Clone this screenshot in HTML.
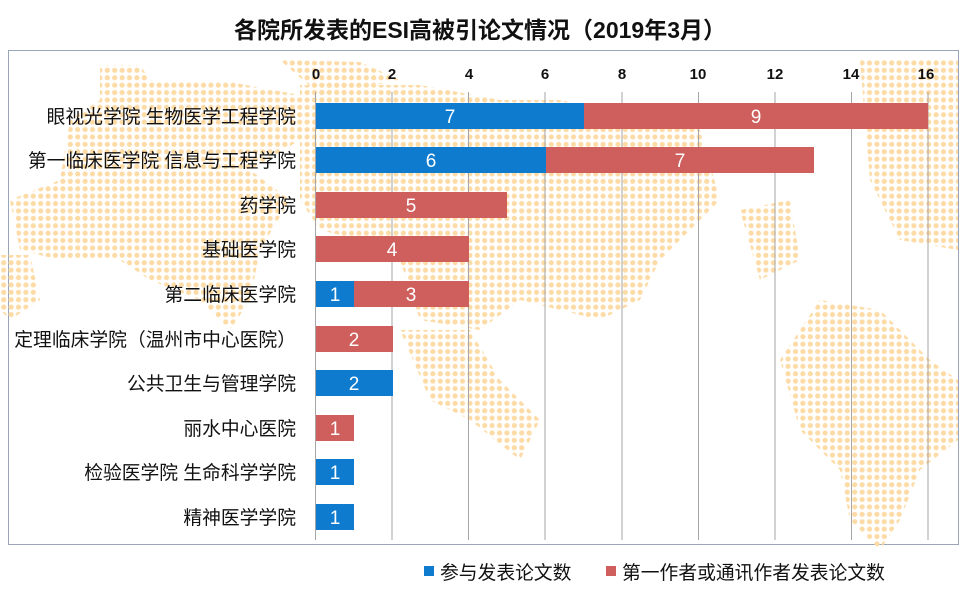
<!DOCTYPE html>
<html><head><meta charset="utf-8"><style>
body{margin:0;background:#fff;}
svg{display:block;font-family:"Liberation Sans","Noto Sans CJK SC",sans-serif;}
</style></head><body>
<svg width="960" height="599" viewBox="0 0 960 599">
<defs>
<pattern id="dots" width="7.4" height="7.4" patternUnits="userSpaceOnUse">
<circle cx="3.7" cy="3.7" r="2.6" fill="#fddba6"/>
</pattern>
</defs>
<text x="480" y="38" text-anchor="middle" font-size="23" font-weight="bold" fill="#111">各院所发表的ESI高被引论文情况（2019年3月）</text>
<rect x="8.5" y="50.5" width="950" height="494" fill="none" stroke="#9aa6b8"/>
<g fill="url(#dots)">
<polygon points="100,65 140,65 150,80 230,82 300,95 300,140 250,170 290,200 260,250 250,300 230,330 200,300 150,280 120,260 60,260 20,250 10,200 60,180 70,120 100,100"/>
<polygon points="300,85 420,85 500,100 560,100 700,130 720,200 660,260 640,300 600,320 520,300 480,330 420,320 400,260 360,240 320,230 300,200"/>
<polygon points="280,60 360,62 400,80 320,95"/>
<polygon points="400,330 470,330 500,380 540,420 520,460 470,420 430,400"/>
<polygon points="820,300 880,310 930,360 958,380 958,440 920,470 900,520 880,550 850,520 840,470 800,430 780,360"/>
<polygon points="860,60 958,60 958,250 900,240 870,180"/>
<polygon points="740,210 790,200 800,260 760,280"/>
<polygon points="0,255 30,255 40,300 10,320 0,310"/>
</g>
<g stroke="#a6a6a6" stroke-width="1">
<line x1="315.5" y1="92" x2="315.5" y2="540"/>
<line x1="392" y1="92" x2="392" y2="540"/>
<line x1="468.5" y1="92" x2="468.5" y2="540"/>
<line x1="545" y1="92" x2="545" y2="540"/>
<line x1="622" y1="92" x2="622" y2="540"/>
<line x1="698.5" y1="92" x2="698.5" y2="540"/>
<line x1="775" y1="92" x2="775" y2="540"/>
<line x1="851.5" y1="92" x2="851.5" y2="540"/>
<line x1="928" y1="92" x2="928" y2="540"/>
</g>
<g font-size="15" font-weight="bold" fill="#111" text-anchor="middle">
<text x="316" y="79">0</text><text x="392" y="79">2</text><text x="469" y="79">4</text><text x="545" y="79">6</text><text x="622" y="79">8</text><text x="698" y="79">10</text><text x="775" y="79">12</text><text x="851" y="79">14</text><text x="926" y="79">16</text>
</g>
<g>
<rect x="316" y="103" width="268" height="26" fill="#0f7bce"/><rect x="584" y="103" width="344" height="26" fill="#cf5f5d"/>
<rect x="316" y="147" width="230" height="26" fill="#0f7bce"/><rect x="546" y="147" width="268" height="26" fill="#cf5f5d"/>
<rect x="316" y="192" width="191" height="26" fill="#cf5f5d"/>
<rect x="316" y="236" width="153" height="26" fill="#cf5f5d"/>
<rect x="316" y="281" width="38" height="26" fill="#0f7bce"/><rect x="354" y="281" width="115" height="26" fill="#cf5f5d"/>
<rect x="316" y="326" width="77" height="26" fill="#cf5f5d"/>
<rect x="316" y="370" width="77" height="26" fill="#0f7bce"/>
<rect x="316" y="415" width="38" height="26" fill="#cf5f5d"/>
<rect x="316" y="459" width="38" height="26" fill="#0f7bce"/>
<rect x="316" y="504" width="38" height="26" fill="#0f7bce"/>
</g>
<g font-size="19" fill="#fff" text-anchor="middle">
<text x="450" y="123">7</text><text x="756" y="123">9</text>
<text x="431" y="167">6</text><text x="680" y="167">7</text>
<text x="411" y="212">5</text>
<text x="392" y="256">4</text>
<text x="335" y="301">1</text><text x="411" y="301">3</text>
<text x="354" y="346">2</text>
<text x="354" y="390">2</text>
<text x="335" y="435">1</text>
<text x="335" y="479">1</text>
<text x="335" y="524">1</text>
</g>
<g font-size="18.8" fill="#111" text-anchor="end">
<text x="296" y="123">眼视光学院 生物医学工程学院</text>
<text x="296" y="167">第一临床医学院 信息与工程学院</text>
<text x="296" y="212">药学院</text>
<text x="296" y="256">基础医学院</text>
<text x="296" y="301">第二临床医学院</text>
<text x="296" y="346">定理临床学院（温州市中心医院）</text>
<text x="296" y="390">公共卫生与管理学院</text>
<text x="296" y="435">丽水中心医院</text>
<text x="296" y="479">检验医学院 生命科学学院</text>
<text x="296" y="524">精神医学学院</text>
</g>
<rect x="424" y="566" width="10" height="10" fill="#0f7bce"/>
<text x="440" y="579" font-size="18.8" fill="#111">参与发表论文数</text>
<rect x="606" y="566" width="10" height="10" fill="#cf5f5d"/>
<text x="622" y="579" font-size="18.8" fill="#111">第一作者或通讯作者发表论文数</text>
</svg>
</body></html>
